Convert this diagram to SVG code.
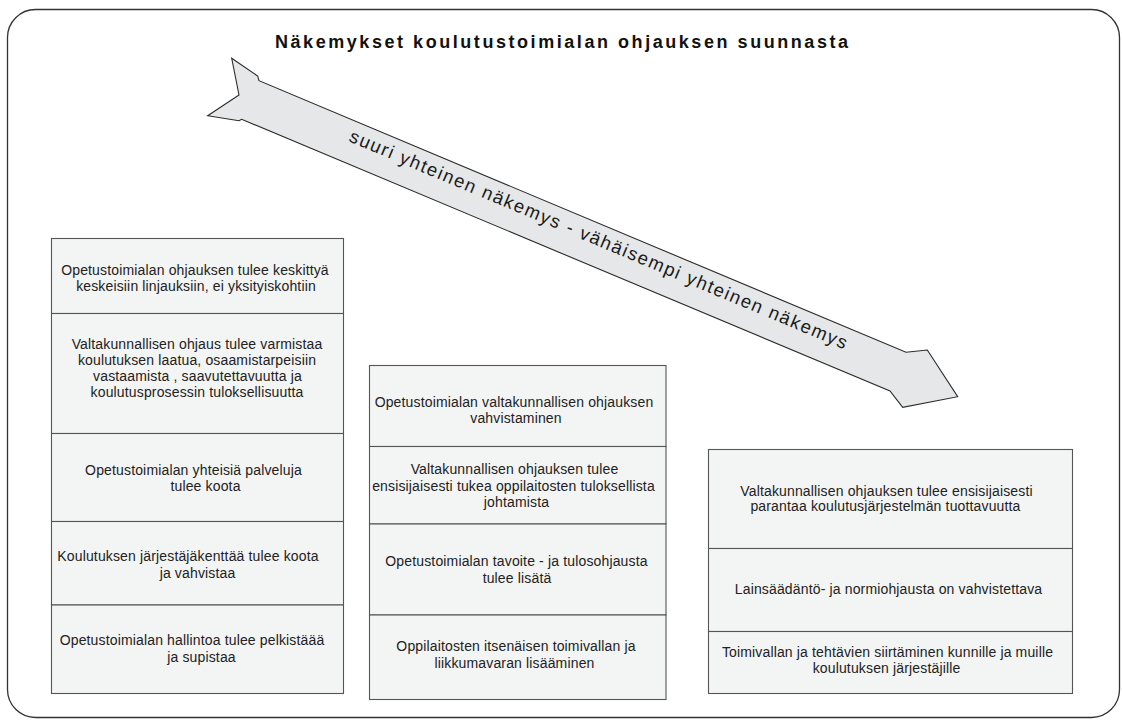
<svg xmlns="http://www.w3.org/2000/svg" width="1122" height="722" viewBox="0 0 1122 722">
  <style>
    .frame { fill: #ffffff; stroke: #333333; stroke-width: 1.3; }
    .cell { fill: #f3f4f4; stroke: #555555; stroke-width: 1.1; }
    .arrow { fill: #e6e7e8; stroke: #2a2a2a; stroke-width: 1.1; stroke-linejoin: miter; }
    .t { font-family: "Liberation Sans", Arial, sans-serif; font-size: 14px; letter-spacing: 0.15px; fill: #222222; text-anchor: middle; }
    .title { font-family: "Liberation Sans", Arial, sans-serif; font-size: 18px; font-weight: bold; fill: #111111; }
    .at { font-family: "Liberation Sans", Arial, sans-serif; font-size: 18.5px; fill: #1a1a1a; }
  </style>
  <rect width="1122" height="722" fill="#ffffff"/>
  <rect class="frame" x="7.5" y="9.5" width="1112" height="708" rx="28" ry="28"/>

  <g id="title">
    <text class="title" x="275" y="48" textLength="573" lengthAdjust="spacing">Näkemykset koulutustoimialan ohjauksen suunnasta</text>
  </g>

  <g id="arrow">
    <polygon class="arrow" points="231.7,58.3 257.7,76 259,80.7 906,352.3 927.3,350 957.7,396.7 902.7,407.3 890,391 241.7,119.3 239,120.7 207.7,115.7 239,95"/>
    <text class="at" transform="translate(348,141) rotate(22.78)" x="0" y="0" textLength="538" lengthAdjust="spacing">suuri yhteinen näkemys - vähäisempi yhteinen näkemys</text>
  </g>

  <g id="connectors"></g>

  <g id="left-1">
    <rect class="cell" x="51.5" y="238.5" width="292" height="75"/>
    <text class="t" x="195" y="275">Opetustoimialan ohjauksen tulee keskittyä</text>
    <text class="t" x="196" y="291">keskeisiin linjauksiin, ei yksityiskohtiin</text>
  </g>
  <g id="left-2">
    <rect class="cell" x="51.5" y="313.5" width="292" height="120"/>
    <text class="t" x="197" y="348.5">Valtakunnallisen ohjaus tulee varmistaa</text>
    <text class="t" x="197" y="364.5">koulutuksen laatua, osaamistarpeisiin</text>
    <text class="t" x="197.5" y="380.5">vastaamista , saavutettavuutta ja</text>
    <text class="t" x="197" y="396.5">koulutusprosessin tuloksellisuutta</text>
  </g>
  <g id="left-3">
    <rect class="cell" x="51.5" y="433.5" width="292" height="88"/>
    <text class="t" x="193.5" y="474.5">Opetustoimialan yhteisiä palveluja</text>
    <text class="t" x="205.5" y="491">tulee koota</text>
  </g>
  <g id="left-4">
    <rect class="cell" x="51.5" y="521.5" width="292" height="83.5"/>
    <text class="t" x="188" y="560.5">Koulutuksen järjestäjäkenttää tulee koota</text>
    <text class="t" x="197.5" y="578">ja vahvistaa</text>
  </g>
  <g id="left-5">
    <rect class="cell" x="51.5" y="605" width="292" height="88.5"/>
    <text class="t" x="192" y="645">Opetustoimialan hallintoa tulee pelkistäää</text>
    <text class="t" x="201.5" y="661.5">ja supistaa</text>
  </g>

  <g id="middle-1">
    <rect class="cell" x="369.5" y="365.5" width="296.5" height="81"/>
    <text class="t" x="514" y="406.5">Opetustoimialan valtakunnallisen ohjauksen</text>
    <text class="t" x="516" y="423">vahvistaminen</text>
  </g>
  <g id="middle-2">
    <rect class="cell" x="369.5" y="446.5" width="296.5" height="77.5"/>
    <text class="t" x="514.5" y="473.5">Valtakunnallisen ohjauksen tulee</text>
    <text class="t" x="513.5" y="490.5">ensisijaisesti tukea oppilaitosten tuloksellista</text>
    <text class="t" x="516.5" y="506.5">johtamista</text>
  </g>
  <g id="middle-3">
    <rect class="cell" x="369.5" y="524" width="296.5" height="91"/>
    <text class="t" x="516.5" y="566">Opetustoimialan tavoite - ja tulosohjausta</text>
    <text class="t" x="517" y="582.5">tulee lisätä</text>
  </g>
  <g id="middle-4">
    <rect class="cell" x="369.5" y="615" width="296.5" height="84.5"/>
    <text class="t" x="516" y="651">Oppilaitosten itsenäisen toimivallan ja</text>
    <text class="t" x="514.5" y="667.5">liikkumavaran lisääminen</text>
  </g>

  <g id="right-1">
    <rect class="cell" x="708.5" y="449.5" width="364" height="99"/>
    <text class="t" x="886.5" y="496">Valtakunnallisen ohjauksen tulee ensisijaisesti</text>
    <text class="t" x="885.5" y="511">parantaa koulutusjärjestelmän tuottavuutta</text>
  </g>
  <g id="right-2">
    <rect class="cell" x="708.5" y="548.5" width="364" height="83"/>
    <text class="t" x="888.5" y="594">Lainsäädäntö- ja normiohjausta on vahvistettava</text>
  </g>
  <g id="right-3">
    <rect class="cell" x="708.5" y="631.5" width="364" height="62"/>
    <text class="t" x="887.5" y="657">Toimivallan ja tehtävien siirtäminen kunnille ja muille</text>
    <text class="t" x="886.5" y="673">koulutuksen järjestäjille</text>
  </g>
</svg>
